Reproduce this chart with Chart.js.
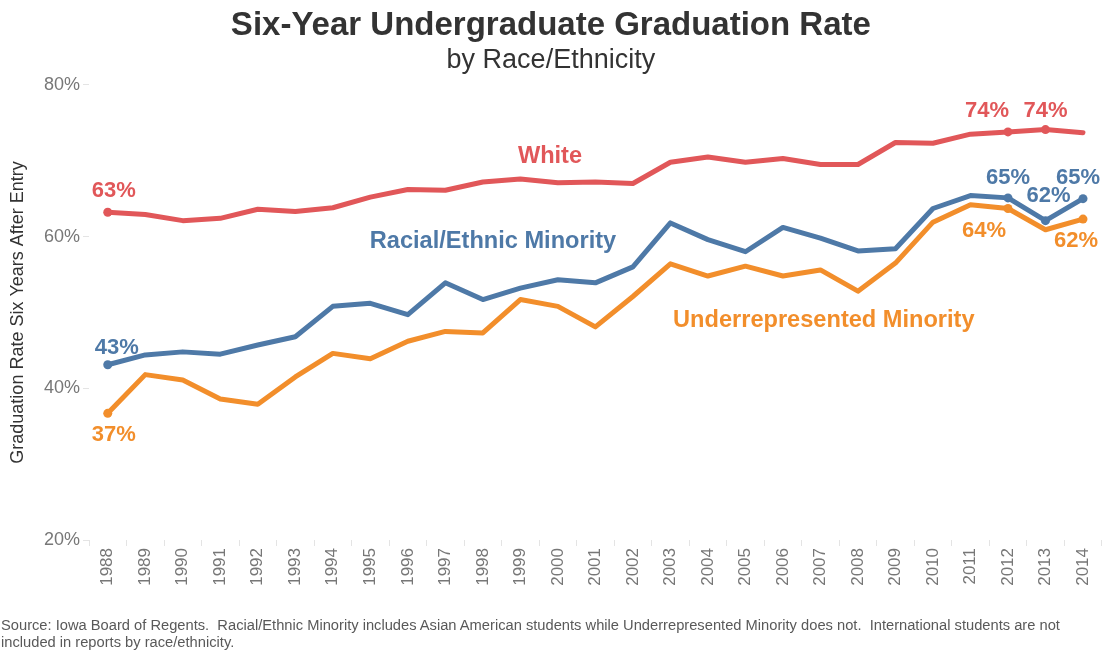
<!DOCTYPE html>
<html>
<head>
<meta charset="utf-8">
<script src="https://cdn.jsdelivr.net/npm/chart.js@4"></script>
<style>
    body { margin: 0; background: #fff; }
    #wrap { position: relative; width: 1107px; height: 651px; }
    #footer {
        position: absolute; left: 1px; top: 617px;
        font: 14.7px "Liberation Sans", Arial, sans-serif; color: #595959;
        line-height: 17px; white-space: nowrap;
    }
</style>
</head>
<body>
<div id="wrap">
    <canvas id="chart" width="1107" height="651"></canvas>
    <div id="footer">Source: Iowa Board of Regents.&nbsp; Racial/Ethnic Minority includes Asian American students while Underrepresented Minority does not.&nbsp; International students are not<br>included in reports by race/ethnicity.</div>
</div>
<script>
const years = ['1988', '1989', '1990', '1991', '1992', '1993', '1994', '1995', '1996', '1997', '1998', '1999', '2000',
    '2001', '2002', '2003', '2004', '2005', '2006', '2007', '2008', '2009', '2010', '2011', '2012', '2013', '2014'];

const whiteRate = [63.2, 62.9, 62.1, 62.4, 63.6, 63.3, 63.8, 65.2, 66.2, 66.1, 67.2, 67.6, 67.1,
    67.2, 67.0, 69.8, 70.5, 69.8, 70.3, 69.5, 69.5, 72.4, 72.3, 73.5, 73.8, 74.1, 73.7];
const minorityRate = [43.1, 44.4, 44.8, 44.5, 45.7, 46.8, 50.8, 51.2, 49.7, 53.9, 51.7, 53.2, 54.3,
    53.9, 56.0, 61.8, 59.6, 58.0, 61.2, 59.8, 58.1, 58.4, 63.7, 65.4, 65.1, 62.1, 65.0];
const underRate = [36.7, 41.8, 41.1, 38.6, 37.9, 41.5, 44.6, 43.9, 46.2, 47.5, 47.3, 51.7, 50.8,
    48.1, 52.1, 56.4, 54.8, 56.1, 54.8, 55.6, 52.8, 56.5, 61.9, 64.2, 63.7, 60.9, 62.3];

const yTicks = [20, 40, 60, 80];

const RED = '#e15759';
const BLUE = '#4e79a7';
const ORANGE = '#f28e2b';
const FONT = '"Liberation Sans", Arial, sans-serif';

// which points get a dot + value label, with label offset in px
const markedPoints = [
    { ds: 0, i: 0, dx: 6, dy: -21 },
    { ds: 0, i: 24, dx: -21, dy: -21 },
    { ds: 0, i: 25, dx: 0, dy: -19 },
    { ds: 1, i: 0, dx: 9, dy: -17 },
    { ds: 1, i: 24, dx: 0, dy: -20 },
    { ds: 1, i: 25, dx: 3, dy: -25 },
    { ds: 1, i: 26, dx: -5, dy: -21 },
    { ds: 2, i: 0, dx: 6, dy: 22 },
    { ds: 2, i: 24, dx: -24, dy: 22 },
    { ds: 2, i: 26, dx: -7, dy: 22 }
];

// series names placed in data space (category index, value)
const seriesNames = [
    { text: 'White', x: 11.79, y: 70.5, color: RED },
    { text: 'Racial/Ethnic Minority', x: 10.27, y: 59.3, color: BLUE },
    { text: 'Underrepresented Minority', x: 19.09, y: 49.0, color: ORANGE }
];

function radii(ds) {
    return years.map((_, i) => markedPoints.some(p => p.ds === ds && p.i === i) ? 4.5 : 0);
}

const labelPlugin = {
    id: 'labels',
    afterDatasetsDraw(chart) {
        const ctx = chart.ctx;
        const xs = chart.scales.x;
        const ys = chart.scales.y;
        ctx.save();
        ctx.textAlign = 'center';
        ctx.textBaseline = 'middle';

        ctx.font = 'bold 23.6px ' + FONT;
        seriesNames.forEach(s => {
            ctx.fillStyle = s.color;
            ctx.fillText(s.text, xs.getPixelForValue(s.x), ys.getPixelForValue(s.y));
        });

        ctx.font = 'bold 22px ' + FONT;
        markedPoints.forEach(p => {
            const ds = chart.data.datasets[p.ds];
            const pt = chart.getDatasetMeta(p.ds).data[p.i];
            ctx.fillStyle = ds.borderColor;
            ctx.fillText(Math.round(ds.data[p.i]) + '%', pt.x + p.dx, pt.y + p.dy);
        });
        ctx.restore();
    }
};

function makeSet(label, data, color, idx) {
    return {
        label: label,
        data: data,
        borderColor: color,
        backgroundColor: color,
        borderWidth: 5,
        borderJoinStyle: 'round',
        borderCapStyle: 'round',
        tension: 0,
        pointRadius: radii(idx),
        pointHoverRadius: radii(idx),
        pointBorderWidth: 0
    };
}

new Chart(document.getElementById('chart'), {
    type: 'line',
    data: {
        labels: years,
        datasets: [
            makeSet('White', whiteRate, RED, 0),
            makeSet('Racial/Ethnic Minority', minorityRate, BLUE, 1),
            makeSet('Underrepresented Minority', underRate, ORANGE, 2)
        ]
    },
    options: {
        responsive: false,
        animation: false,
        layout: { padding: { top: 0, left: 0, right: 5.25, bottom: 51 } },
        plugins: {
            legend: { display: false },
            tooltip: { enabled: false },
            title: {
                display: true,
                text: 'Six-Year Undergraduate Graduation Rate',
                color: '#333',
                font: { family: FONT, size: 33, weight: 'bold', lineHeight: 1.1 },
                padding: { top: 7.85, bottom: 2 }
            },
            subtitle: {
                display: true,
                text: 'by Race/Ethnicity',
                color: '#333',
                font: { family: FONT, size: 27, lineHeight: 1.1 },
                padding: { top: 0, bottom: 9 }
            }
        },
        scales: {
            x: {
                offset: true,
                grid: { display: true, offset: true, drawOnChartArea: false, tickLength: 6, color: '#e4e4e4' },
                border: { display: false },
                ticks: {
                    autoSkip: false, minRotation: 90, maxRotation: 90, padding: 2,
                    color: '#777', font: { family: FONT, size: 17 }
                },
                afterFit: s => { s.height = 60; }
            },
            y: {
                min: 20,
                max: 80,
                afterBuildTicks: s => { s.ticks = yTicks.map(v => ({ value: v })); },
                grid: { display: true, drawOnChartArea: false, tickLength: 6, color: '#e4e4e4' },
                border: { display: false },
                ticks: {
                    padding: 3, color: '#777', font: { family: FONT, size: 18 },
                    callback: v => v + '%'
                },
                title: {
                    display: true,
                    text: 'Graduation Rate Six Years After Entry',
                    color: '#333',
                    font: { family: FONT, size: 18, lineHeight: 1.2 },
                    padding: { top: 7.5, bottom: 0 }
                },
                afterFit: s => { s.width = 89; }
            }
        }
    },
    plugins: [labelPlugin]
});
</script>
</body>
</html>
